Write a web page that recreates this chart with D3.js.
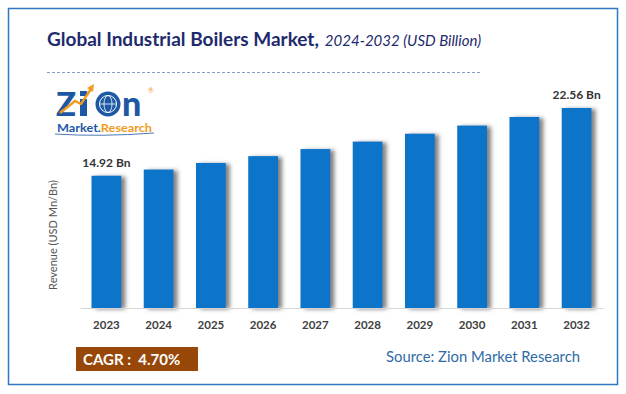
<!DOCTYPE html>
<html>
<head>
<meta charset="utf-8">
<script src="https://cdn.jsdelivr.net/npm/d3@7"></script>
<style>
  body { margin: 0; background: #fff; }
  svg { display: block; font-family: Lato, "Open Sans", sans-serif; }
</style>
</head>
<body>
<div id="chart"></div>
<script>
// Chart data
const years = ["2023", "2024", "2025", "2026", "2027", "2028", "2029", "2030", "2031", "2032"];
const revenue = [14.92, 15.62, 16.36, 17.13, 17.93, 18.77, 19.66, 20.58, 21.55, 22.56];
const labelled = ["2023", "2032"];
const cagrText = "CAGR :  4.70%";
const sourceText = "Source: Zion Market Research";

const W = 626, H = 394;
const margin = { top: 108, right: 23, bottom: 86, left: 80 };
const width = W - margin.left - margin.right;
const height = H - margin.top - margin.bottom;

const svg = d3.select("#chart").append("svg")
  .attr("width", W)
  .attr("height", H);

// Bar shadow
const defs = svg.append("defs");
const filter = defs.append("filter")
  .attr("id", "shadow")
  .attr("x", "-20%").attr("y", "-10%")
  .attr("width", "160%").attr("height", "120%");
filter.append("feDropShadow")
  .attr("dx", 4).attr("dy", 1)
  .attr("stdDeviation", 2.2)
  .attr("flood-color", "#555")
  .attr("flood-opacity", 0.75);

// Frame
svg.append("rect")
  .attr("x", 8.5).attr("y", 8.5)
  .attr("width", 609).attr("height", 376)
  .attr("fill", "none")
  .attr("stroke", "#2f78bd")
  .attr("stroke-width", 1.5);

// Title (bold part + italic part in one text element)
const title = svg.append("text")
  .attr("x", 47).attr("y", 46)
  .attr("fill", "#1e2a6c");
title.append("tspan")
  .attr("font-size", 19)
  .attr("font-weight", "bold")
  .text("Global Industrial Boilers Market,");
title.append("tspan")
  .attr("dx", 6)
  .attr("font-size", 15)
  .attr("font-style", "italic")
  .text("2024-2032 (USD Billion)");

// Dashed separator
svg.append("line")
  .attr("x1", 47).attr("x2", 482)
  .attr("y1", 72.5).attr("y2", 72.5)
  .attr("stroke", "#7f9ec4")
  .attr("stroke-dasharray", "3,2");

// Logo
const blue = "#1d58a5", orange = "#f39a1e";
const logo = svg.append("g");
logo.append("text")
  .attr("x", 56).attr("y", 116)
  .attr("font-size", 33)
  .attr("font-weight", 900)
  .attr("fill", blue)
  .text("Z");
logo.append("rect")
  .attr("x", 80).attr("y", 99)
  .attr("width", 7).attr("height", 17)
  .attr("fill", blue);
logo.append("rect")
  .attr("x", 80).attr("y", 91)
  .attr("width", 7).attr("height", 5)
  .attr("fill", blue);
logo.append("circle")
  .attr("cx", 108).attr("cy", 104)
  .attr("r", 12.5)
  .attr("fill", blue);
logo.append("circle")
  .attr("cx", 108).attr("cy", 104)
  .attr("r", 8.5)
  .attr("fill", "none")
  .attr("stroke", "#fff")
  .attr("stroke-width", 1);
logo.append("ellipse")
  .attr("cx", 108).attr("cy", 104)
  .attr("rx", 4).attr("ry", 8.5)
  .attr("fill", "none")
  .attr("stroke", "#fff")
  .attr("stroke-width", 0.8);
logo.append("line")
  .attr("x1", 99.5).attr("x2", 116.5)
  .attr("y1", 104).attr("y2", 104)
  .attr("stroke", "#fff")
  .attr("stroke-width", 0.8);
logo.append("text")
  .attr("x", 122).attr("y", 116)
  .attr("font-size", 34)
  .attr("font-weight", 900)
  .attr("fill", blue)
  .text("n");
logo.append("path")
  .attr("d", "M60,113 L75,101 L81,104 L91,89")
  .attr("fill", "none")
  .attr("stroke", orange)
  .attr("stroke-width", 2.5);
logo.append("path")
  .attr("d", "M87,88 L94,84 L93,92 Z")
  .attr("fill", orange);
logo.append("text")
  .attr("x", 148).attr("y", 93)
  .attr("font-size", 7)
  .attr("fill", orange)
  .text("®");
const logoSub = logo.append("text")
  .attr("x", 57).attr("y", 132)
  .attr("font-size", 12)
  .attr("font-weight", "bold")
  .attr("textLength", 95)
  .attr("lengthAdjust", "spacingAndGlyphs");
logoSub.append("tspan").attr("fill", blue).text("Market.");
logoSub.append("tspan").attr("fill", orange).text("Research");
logo.append("path")
  .attr("d", "M55,134 Q100,137 154,133")
  .attr("fill", "none")
  .attr("stroke", blue)
  .attr("stroke-width", 0.8);

// Scales
const x = d3.scaleBand()
  .domain(years)
  .range([0, width])
  .paddingInner(0.43)
  .paddingOuter(0.22);

const y = d3.scaleLinear()
  .domain([0, d3.max(revenue)])
  .range([height, 0]);

const g = svg.append("g")
  .attr("transform", "translate(" + margin.left + "," + margin.top + ")");

// Bars
g.selectAll("rect.bar")
  .data(years)
  .enter()
  .append("rect")
  .attr("class", "bar")
  .attr("x", d => x(d))
  .attr("y", (d, i) => y(revenue[i]))
  .attr("width", x.bandwidth())
  .attr("height", (d, i) => height - y(revenue[i]))
  .attr("fill", "#0874c9")
  .attr("filter", "url(#shadow)");

// X axis
const xAxis = g.append("g")
  .attr("transform", "translate(0," + height + ")")
  .call(d3.axisBottom(x).tickSize(0).tickPadding(13));
xAxis.select(".domain")
  .attr("stroke", "#d6d6d6");
xAxis.selectAll("text")
  .attr("font-family", "Lato, sans-serif")
  .attr("font-size", 11.5)
  .attr("font-weight", "bold")
  .attr("fill", "#404040");

// Value labels
g.selectAll("text.value")
  .data(years.filter(d => labelled.includes(d)))
  .enter()
  .append("text")
  .attr("class", "value")
  .attr("x", d => x(d) + x.bandwidth() / 2)
  .attr("y", d => y(revenue[years.indexOf(d)]) - 9)
  .attr("text-anchor", "middle")
  .attr("font-size", 12)
  .attr("font-weight", "bold")
  .attr("fill", "#333")
  .text(d => revenue[years.indexOf(d)].toFixed(2) + " Bn");

// Y axis title
svg.append("text")
  .attr("transform", "translate(57,235) rotate(-90)")
  .attr("text-anchor", "middle")
  .attr("font-size", 11)
  .attr("fill", "#555")
  .text("Revenue (USD Mn/Bn)");

// CAGR box
svg.append("rect")
  .attr("x", 76).attr("y", 347)
  .attr("width", 122).attr("height", 24)
  .attr("fill", "#974708");
svg.append("text")
  .attr("x", 83).attr("y", 365)
  .attr("font-size", 15)
  .attr("font-weight", "bold")
  .attr("fill", "#fff")
  .style("white-space", "pre")
  .text(cagrText);

// Source
svg.append("text")
  .attr("x", 386).attr("y", 362)
  .attr("font-size", 14.5)
  .attr("fill", "#2e6aa6")
  .attr("textLength", 194)
  .attr("lengthAdjust", "spacingAndGlyphs")
  .text(sourceText);
</script>
</body>
</html>
